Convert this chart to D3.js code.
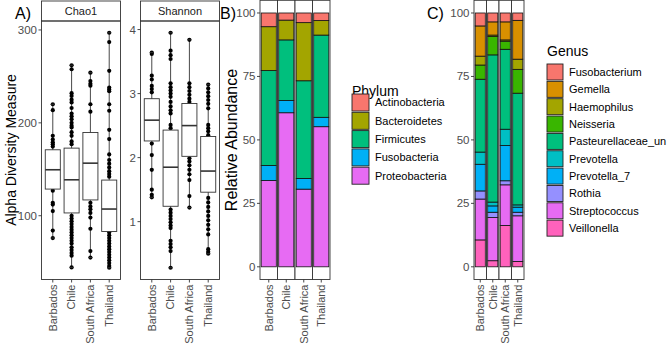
<!doctype html>
<html>
<head>
<meta charset="utf-8">
<script src="https://d3js.org/d3.v7.min.js"></script>
<style>
  body { margin: 0; background: #fff; }
  svg { display: block; font-family: "Liberation Sans", Arial, sans-serif; }
</style>
</head>
<body>
<svg width="669" height="347"></svg>
<script>
const countries = ["Barbados", "Chile", "South Africa", "Thailand"];

// boxplot stats per country: [lower whisker, q1, median, q3, upper whisker]
const chao1Stats = [
  [76, 128.7, 149.5, 171, 220],
  [44.4, 103, 138.7, 172.8, 262],
  [55, 117, 156.6, 189.6, 254],
  [44, 83, 107.2, 138.4, 297]
];
const chao1Points = [
  [220, 213.6, 186, 182, 179, 177, 174.5, 127, 114, 112, 105, 84, 76],
  [262, 257.7, 232, 229, 225, 222, 216, 210, 207, 204, 200, 197, 195, 190, 186, 180, 177,
   100, 97, 94, 91, 88, 85, 82, 79, 76, 73, 70, 66, 63, 60, 57, 44.4],
  [254, 245, 242, 240, 220, 212, 114, 110, 107, 103, 98, 86, 62, 55],
  [297, 287, 256, 238, 236, 234, 220, 213, 192.5, 182.5, 166, 160, 156, 152, 148, 145, 142,
   82, 79, 76, 73, 70, 67, 64, 61, 58, 55, 52, 49, 46, 44]
];
const shannonStats = [
  [1.38, 2.26, 2.585, 2.92, 3.64],
  [0.28, 1.24, 1.85, 2.43, 3.95],
  [1.22, 2.02, 2.5, 2.845, 3.84],
  [0.5, 1.46, 1.79, 2.33, 3.14]
];
const shannonPoints = [
  [3.64, 3.62, 3.28, 3.22, 3.12, 3.07, 3.02, 2.22, 2.04, 1.81, 1.5, 1.42, 1.38],
  [3.95, 3.67, 3.6, 3.54, 3.16, 3.1, 3.05, 3.0, 2.95, 2.87, 2.8, 2.74, 2.69, 2.51, 2.46,
   1.19, 1.14, 1.09, 1.04, 0.99, 0.94, 0.9, 0.7, 0.65, 0.6, 0.54, 0.28],
  [3.84, 3.16, 3.1, 3.04, 2.98, 2.92, 2.87, 2.72, 2.66, 2.59, 1.99, 1.94, 1.88, 1.81, 1.74, 1.65, 1.4, 1.22],
  [3.14, 3.08, 3.02, 2.96, 2.9, 2.84, 2.77, 2.51, 2.46, 2.41, 2.35,
   1.37, 1.3, 1.23, 1.16, 1.09, 1.02, 0.95, 0.88, 0.8, 0.57, 0.53, 0.5]
];
const chao1Ticks = [100, 200, 300];
const shannonTicks = [1, 2, 3, 4];

const phyla = ["Actinobacteria", "Bacteroidetes", "Firmicutes", "Fusobacteria", "Proteobacteria"];
const phylumColors = ["#F8766D", "#A3A500", "#00BF7D", "#00B0F6", "#E76BF3"];
// rows follow phyla, columns follow countries
const phylumValues = [
  [5.4, 2.8, 3.8, 3.0],
  [17.3, 7.8, 22.9, 5.7],
  [37.4, 23.9, 38.5, 32.4],
  [5.9, 4.8, 4.2, 3.7],
  [34.0, 60.7, 30.6, 55.2]
];

const genera = ["Fusobacterium", "Gemella", "Haemophilus", "Neisseria", "Pasteurellaceae_un",
  "Prevotella", "Prevotella_7", "Rothia", "Streptococcus", "Veillonella"];
const genusColors = ["#F8766D", "#D89000", "#A3A500", "#39B600", "#00BF7D",
  "#00BFC4", "#00B0F6", "#9590FF", "#E76BF3", "#FF62BC"];
const genusValues = [
  [5.1, 3.5, 3.5, 2.9],
  [11.9, 5.2, 7.1, 15.3],
  [3.5, 0.6, 0.5, 4.0],
  [5.6, 7.2, 3.2, 9.4],
  [28.7, 58.0, 31.5, 44.0],
  [4.8, 1.5, 6.4, 0.9],
  [10.5, 2.5, 13.9, 2.0],
  [3.2, 2.1, 1.6, 1.4],
  [16.1, 17.0, 16.0, 18.0],
  [10.6, 2.4, 16.3, 2.1]
];
const abundanceTicks = [0, 25, 50, 75, 100];

const svg = d3.select("svg");
const panelBottom = 279.5;
const tickGrey = "#4D4D4D";
const lineGrey = "#333333";

const xLabels = (g, x, offset) => {
  g.selectAll(null).data(countries).enter().append("line")
    .attr("x1", d => x(d) + offset).attr("x2", d => x(d) + offset)
    .attr("y1", panelBottom).attr("y2", panelBottom + 3)
    .attr("stroke", lineGrey).attr("stroke-width", 0.9);
  g.selectAll(null).data(countries).enter().append("text")
    .attr("transform", d => `translate(${x(d) + offset},${panelBottom + 5}) rotate(-90)`)
    .attr("text-anchor", "end").attr("dy", "0.35em")
    .attr("font-size", 11).attr("fill", tickGrey)
    .text(d => d);
};

const yAxis = (g, y, ticks, xLeft) => {
  g.selectAll(null).data(ticks).enter().append("line")
    .attr("x1", xLeft - 3).attr("x2", xLeft)
    .attr("y1", d => y(d)).attr("y2", d => y(d))
    .attr("stroke", lineGrey).attr("stroke-width", 0.9);
  g.selectAll(null).data(ticks).enter().append("text")
    .attr("x", xLeft - 4.5).attr("y", d => y(d)).attr("dy", "0.35em")
    .attr("text-anchor", "end").attr("font-size", 11.5).attr("fill", tickGrey)
    .text(d => d);
};

const boxPanel = (x0, x1, title, stats, points, ticks) => {
  const g = svg.append("g");
  const x = d3.scaleBand().domain(countries).range([x0, x1])
    .paddingInner(0.2).paddingOuter(0.2);
  const ext = d3.extent(stats.flat());
  const pad = (ext[1] - ext[0]) * 0.05;
  const y = d3.scaleLinear().domain([ext[0] - pad, ext[1] + pad]).range([panelBottom, 21]);
  const cx = d => x(d) + x.bandwidth() / 2;

  g.append("rect").attr("x", x0).attr("y", 1).attr("width", x1 - x0).attr("height", 20)
    .attr("fill", "#fff").attr("stroke", lineGrey).attr("stroke-width", 0.9);
  g.append("text").attr("x", (x0 + x1) / 2).attr("y", 11).attr("dy", "0.35em")
    .attr("text-anchor", "middle").attr("font-size", 11).attr("fill", "#1A1A1A").text(title);

  const grp = g.selectAll(".grp").data(countries).enter().append("g").attr("class", "grp");
  grp.append("line")
    .attr("x1", cx).attr("x2", cx)
    .attr("y1", (d, i) => y(stats[i][0])).attr("y2", (d, i) => y(stats[i][4]))
    .attr("stroke", lineGrey).attr("stroke-width", 0.9);
  grp.selectAll("circle").data((d, i) => points[i].map(v => [d, v])).enter().append("circle")
    .attr("cx", d => cx(d[0])).attr("cy", d => y(d[1])).attr("r", 2.1).attr("fill", "#000");
  grp.selectAll(".cap").data((d, i) => [[d, stats[i][0]], [d, stats[i][4]]]).enter().append("line")
    .attr("x1", d => cx(d[0]) - 2).attr("x2", d => cx(d[0]) + 2)
    .attr("y1", d => y(d[1])).attr("y2", d => y(d[1]))
    .attr("stroke", lineGrey).attr("stroke-width", 0.9);
  grp.append("rect")
    .attr("x", d => x(d)).attr("width", x.bandwidth())
    .attr("y", (d, i) => y(stats[i][3]))
    .attr("height", (d, i) => y(stats[i][1]) - y(stats[i][3]))
    .attr("fill", "#fff").attr("stroke", lineGrey).attr("stroke-width", 0.9);
  grp.append("line")
    .attr("x1", d => x(d)).attr("x2", d => x(d) + x.bandwidth())
    .attr("y1", (d, i) => y(stats[i][2])).attr("y2", (d, i) => y(stats[i][2]))
    .attr("stroke", lineGrey).attr("stroke-width", 1.6);

  g.append("rect").attr("x", x0).attr("y", 21).attr("width", x1 - x0).attr("height", panelBottom - 21)
    .attr("fill", "none").attr("stroke", lineGrey).attr("stroke-width", 0.9);
  yAxis(g, y, ticks, x0);
  xLabels(g, x, x.bandwidth() / 2);
};

const barPanel = (x0, x1, keys, values, colors) => {
  const g = svg.append("g");
  const x = d3.scaleBand().domain(countries).range([x0, x1]);
  const y = d3.scaleLinear().domain([-5, 105]).range([panelBottom, 0.3]);
  const color = d3.scaleOrdinal().domain(keys).range(colors);
  const rows = countries.map((c, j) => {
    const r = { country: c };
    keys.forEach((k, i) => { r[k] = values[i][j]; });
    return r;
  });
  const series = d3.stack().keys(keys.slice().reverse())(rows);

  g.selectAll(".facet").data(countries).enter().append("rect")
    .attr("x", d => x(d)).attr("y", 0.3).attr("width", x.bandwidth()).attr("height", panelBottom - 0.3)
    .attr("fill", "#fff").attr("stroke", lineGrey).attr("stroke-width", 0.9);
  g.selectAll(".layer").data(series).enter().append("g")
    .attr("fill", d => color(d.key))
    .selectAll("rect").data(d => d).enter().append("rect")
    .attr("x", d => x(d.data.country) + 1.2).attr("width", x.bandwidth() - 2.4)
    .attr("y", d => y(d[1])).attr("height", d => y(d[0]) - y(d[1]))
    .attr("stroke", "#111").attr("stroke-width", 0.8);
  yAxis(g, y, abundanceTicks, x0);
  xLabels(g, x, x.bandwidth() / 2);
};

const legend = (x0, titleY, title, keys, colors, firstY, step, size) => {
  const g = svg.append("g");
  g.append("text").attr("x", x0).attr("y", titleY).attr("dy", "0.35em")
    .attr("font-size", 14).attr("fill", "#000").text(title);
  const item = g.selectAll(".item").data(keys).enter().append("g")
    .attr("transform", (d, i) => `translate(${x0},${firstY + i * step})`);
  item.append("rect").attr("x", 0).attr("y", -size / 2).attr("width", size).attr("height", size)
    .attr("fill", (d, i) => colors[i]).attr("stroke", "#222").attr("stroke-width", 0.9);
  item.append("text").attr("x", size + 6).attr("dy", "0.35em")
    .attr("font-size", 11).attr("fill", "#000").text(d => d);
};

boxPanel(41.5, 120.5, "Chao1", chao1Stats, chao1Points, chao1Ticks);
boxPanel(140.5, 219.5, "Shannon", shannonStats, shannonPoints, shannonTicks);
barPanel(260, 330, phyla, phylumValues, phylumColors);
barPanel(474, 524, genera, genusValues, genusColors);
legend(352, 91, "Phylum", phyla, phylumColors, 102.5, 18.3, 17);
legend(547, 51, "Genus", genera, genusColors, 72, 17.35, 16);

// panel letters and axis titles
const labels = [["A)", 15, 13], ["B)", 220, 13], ["C)", 427, 13]];
svg.selectAll(".panelLabel").data(labels).enter().append("text")
  .attr("x", d => d[1]).attr("y", d => d[2]).attr("dy", "0.35em")
  .attr("font-size", 16).attr("fill", "#000").text(d => d[0]);
svg.append("text").attr("transform", "translate(11,150) rotate(-90)")
  .attr("text-anchor", "middle").attr("dy", "0.35em").attr("font-size", 14)
  .text("Alpha Diversity Measure");
svg.append("text").attr("transform", "translate(231,140) rotate(-90)")
  .attr("text-anchor", "middle").attr("dy", "0.35em").attr("font-size", 16)
  .text("Relative Abundance");
</script>
</body>
</html>
